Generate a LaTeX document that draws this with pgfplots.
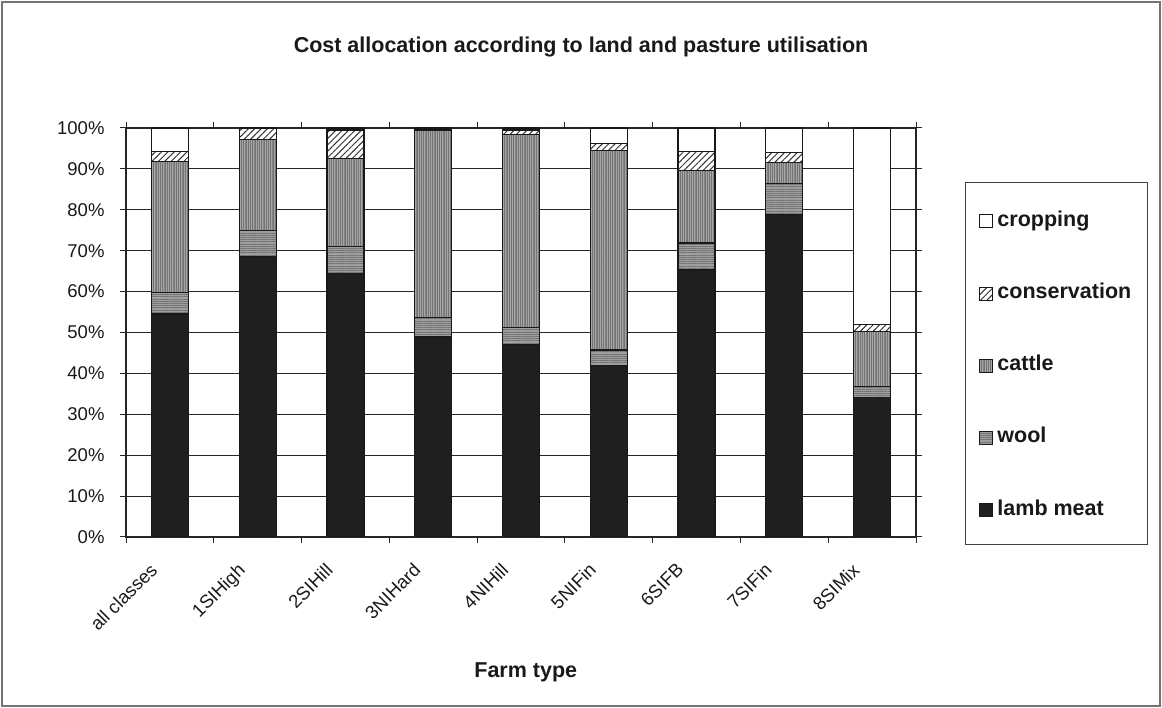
\documentclass[border=0pt]{standalone}
\usepackage{pgfplots}
\pgfplotsset{compat=1.18}
\usepackage{pgfplotstable}
\usepackage{fontspec}
\setmainfont{Liberation Sans}
\usetikzlibrary{patterns.meta}

\pgfplotstableread{
x label lamb wool cattle cons crop
0 {all classes} 54.5 5.3 32.0 2.4 5.8
1 1SIHigh 68.5 6.5 22.1 2.9 0.0
2 2SIHill 64.4 6.6 21.6 6.9 0.5
3 3NIHard 48.9 4.8 45.8 0.3 0.2
4 4NIHill 47.1 4.1 47.3 1.0 0.5
5 5NIFin 42.0 3.7 48.7 1.8 3.8
6 6SIFB 65.3 6.6 17.8 4.5 5.8
7 7SIFin 78.9 7.6 5.0 2.5 6.0
8 8SIMix 34.1 2.6 13.5 1.8 48.0
}\datatable

\begin{document}
\begin{tikzpicture}[x=1pt,y=1pt]
\useasboundingbox (0,0) rectangle (1162,708);
\draw[black!55, line width=1.2pt] (2,2) rectangle (1160,706);
\begin{axis}[
  at={(126pt,171pt)}, anchor=south west,
  scale only axis,
  width=790pt, height=409pt,
  xmin=-0.5, xmax=8.5,
  ymin=0, ymax=100,
  ybar stacked,
  bar width=37pt,
  axis line style={black!85, line width=1.1pt},
  xtick={0,...,8},
  xticklabels={all classes,1SIHigh,2SIHill,3NIHard,4NIHill,5NIFin,6SIFB,7SIFin,8SIMix},
  minor xtick={-0.5,0.5,...,8.5},
  major x tick style={draw=none},
  minor x tick style={black!85, line width=1pt},
  tick align=outside,
  major tick length=6pt,
  minor tick length=6pt,
  ytick={0,10,...,100},
  yticklabel={\pgfmathprintnumber{\tick}\%},
  y tick style={black!85, line width=1pt},
  /pgf/number format/assume math mode=true,
  ticklabel style={font=\fontsize{18.5}{21}\selectfont, text=black!90},
  yticklabel style={xshift=-12pt},
  xticklabel style={xshift=-21pt, yshift=-16pt, rotate=45, anchor=north east, inner sep=2pt},
  ymajorgrids,
  grid style={black!85, line width=1pt},
  title={Cost allocation according to land and pasture utilisation},
  title style={font=\bfseries\fontsize{21.5}{25}\selectfont, text=black!90, at={(axis description cs:0.576,1.183)}, anchor=center},
  xlabel={Farm type},
  xlabel style={font=\bfseries\fontsize{21.5}{25}\selectfont, text=black!90, at={(axis description cs:0.506,-0.332)}, anchor=center},
  every axis plot/.append style={draw=black!90, line width=1.2pt},
  reverse legend,
  legend cell align=left,
  legend image code/.code={\draw[#1, line width=1pt] (0pt,-8.5pt) rectangle (13pt,4.5pt);},
  legend style={at={(axis description cs:1.062,0.868)}, anchor=north west,
    draw=black!75, line width=1pt,
    font=\bfseries\fontsize{21.5}{25}\selectfont, text=black!90,
    inner xsep=14pt, inner ysep=26.3pt, row sep=51.1pt, column sep=2pt},
]
\addplot[fill=black!88] table[x=x, y=lamb] {\datatable};
\addlegendentry{lamb meat}
\addplot[fill=black!38, postaction={pattern={Lines[angle=0,distance=2.2pt,line width=0.5pt]}, pattern color=black!55}] table[x=x, y=wool] {\datatable};
\addlegendentry{wool}
\addplot[fill=black!35, postaction={pattern={Lines[angle=90,distance=1.8pt,line width=0.5pt]}, pattern color=black!55}] table[x=x, y=cattle] {\datatable};
\addlegendentry{cattle}
\addplot[fill=white, postaction={pattern={Lines[angle=45,distance=4.5pt,line width=1pt]}, pattern color=black!80}] table[x=x, y=cons] {\datatable};
\addlegendentry{conservation}
\addplot[fill=white] table[x=x, y=crop] {\datatable};
\addlegendentry{cropping}
\end{axis}
\end{tikzpicture}
\end{document}
